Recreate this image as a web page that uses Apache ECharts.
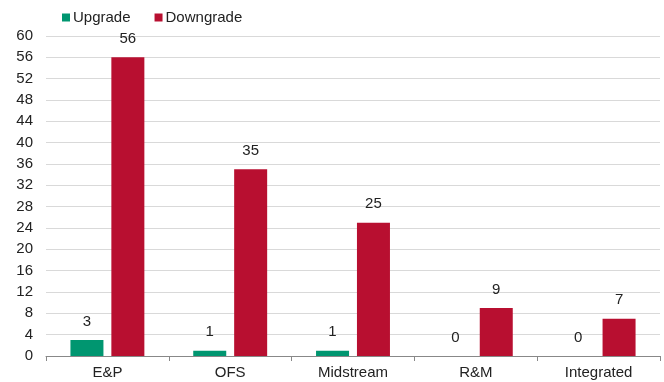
<!DOCTYPE html>
<html>
<head>
<meta charset="utf-8">
<script src="https://cdn.jsdelivr.net/npm/echarts@6/dist/echarts.min.js"></script>
<style>
  html, body { margin: 0; padding: 0; background: #fff; }
  #main { width: 664px; height: 382px; }
</style>
</head>
<body>
<div id="main"></div>
<script>
"use strict";

const categories = ['E&P', 'OFS', 'Midstream', 'R&M', 'Integrated'];
const upgrade = [3, 1, 1, 0, 0];
const downgrade = [56, 35, 25, 9, 7];

let myChart = echarts.init(document.getElementById('main'));

const labelStyle = {
  show: true,
  position: 'top',
  distance: 11,
  color: '#222',
  fontSize: 15,
  fontFamily: 'Liberation Sans, Arial, sans-serif',
};

let option = {
  animation: false,
  textStyle: { fontFamily: 'Liberation Sans, Arial, sans-serif' },
  legend: { // 图例
    left: 57,
    top: 5,
    itemWidth: 8,
    itemHeight: 8,
    itemGap: 24,
    icon: 'rect',
    textStyle: { fontSize: 15, color: '#222', padding: [0, 0, 0, -2] },
    data: ['Upgrade', 'Downgrade'],
  },
  grid: { // 直角坐标系
    left: 46,
    right: 4,
    top: 36,
    bottom: 26,
    outerBoundsMode: 'none',
  },
  xAxis: {
    type: 'category',
    data: categories,
    axisLine: { lineStyle: { color: '#888', width: 1 } },
    axisTick: { show: true, length: 5, lineStyle: { color: '#888' } },
    axisLabel: { color: '#222', fontSize: 15, margin: 9 },
  },
  yAxis: {
    type: 'value',
    min: 0,
    max: 60,
    interval: 4,
    axisLine: { show: false },
    axisTick: { show: false },
    axisLabel: { color: '#222', fontSize: 15, margin: 13 },
    splitLine: { lineStyle: { color: '#d9d9d9', width: 1 } },
  },
  series: [
    {
      name: 'Upgrade',
      type: 'bar',
      data: upgrade,
      barWidth: 33,
      barGap: '24%',
      itemStyle: { color: '#009670' },
      label: labelStyle,
    },
    {
      name: 'Downgrade',
      type: 'bar',
      data: downgrade,
      barWidth: 33,
      itemStyle: { color: '#B80F30' },
      label: labelStyle,
    },
  ],
};

myChart.setOption(option);
</script>
</body>
</html>
